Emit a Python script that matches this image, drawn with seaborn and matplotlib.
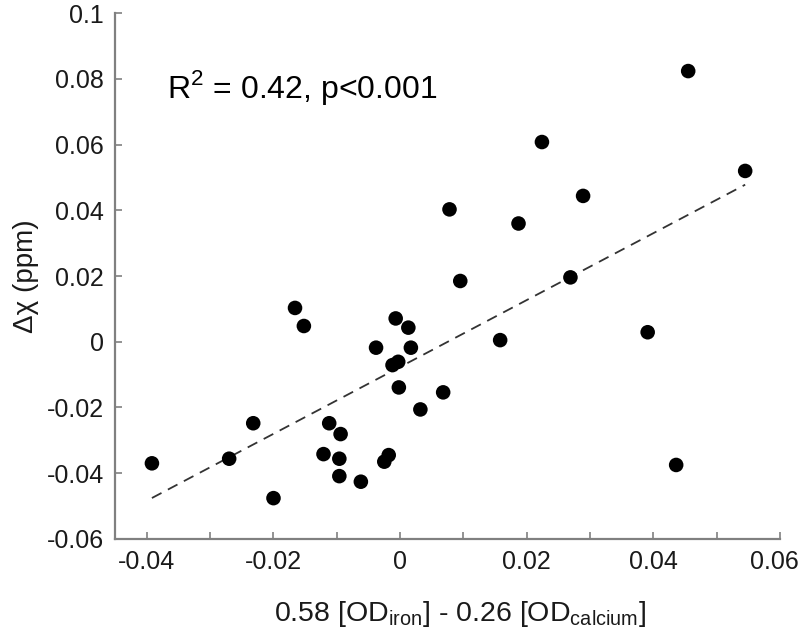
import numpy as np
import pandas as pd
import seaborn as sns
from matplotlib import pyplot as plt
from matplotlib.transforms import ScaledTranslation

# values
od_combo = [-0.0392, -0.0270, -0.0232, -0.0200, -0.0166, -0.0152, -0.0121, -0.0112,
            -0.0096, -0.0094, -0.0096, -0.0062, -0.0038, -0.0025, -0.0018, -0.0012,
            -0.0007, -0.0003, -0.0002, 0.0013, 0.0017, 0.0032, 0.0068, 0.0078,
            0.0095, 0.0158, 0.0187, 0.0224, 0.0269, 0.0289, 0.0391, 0.0436,
            0.0455, 0.0545]
delta_chi = [-0.0370, -0.0356, -0.0248, -0.0476, 0.0103, 0.0048, -0.0342, -0.0248,
             -0.0356, -0.0281, -0.0409, -0.0426, -0.0018, -0.0365, -0.0345, -0.0071,
             0.0071, -0.0061, -0.0139, 0.0043, -0.0018, -0.0206, -0.0154, 0.0403,
             0.0185, 0.0005, 0.0360, 0.0608, 0.0196, 0.0444, 0.0029, -0.0375,
             0.0824, 0.0520]

x_ticks = [-0.04, -0.03, -0.02, -0.01, 0, 0.01, 0.02, 0.03, 0.04, 0.05, 0.06]
x_tick_labels = ["-0.04", "", "-0.02", "", "0", "", "0.02", "", "0.04", "", "0.06"]
y_ticks = [-0.06, -0.04, -0.02, 0, 0.02, 0.04, 0.06, 0.08, 0.1]
y_tick_labels = ["-0.06", "-0.04", "-0.02", "0", "0.02", "0.04", "0.06", "0.08", "0.1"]

df = pd.DataFrame({"x": od_combo, "y": delta_chi})

sns.set_style("ticks")
plt.rcParams["font.family"] = ["Liberation Sans", "DejaVu Sans"]
plt.rcParams["mathtext.fontset"] = "custom"
plt.rcParams["mathtext.rm"] = "Liberation Sans"

fig = plt.figure(figsize=(8, 6.31), dpi=100)
ax = fig.add_axes([0.144, 0.146, 0.831, 0.833])

sns.regplot(data=df, x="x", y="y", scatter=False, ci=None, ax=ax,
            line_kws={"color": "#333333", "linestyle": (0, (6, 4)), "linewidth": 1.3})
sns.scatterplot(data=df, x="x", y="y", ax=ax, color="black", s=110,
                edgecolor="none", zorder=3)

ax.set_xlim(-0.045, 0.06)
ax.set_ylim(-0.06, 0.1)
ax.set_xticks(x_ticks)
ax.set_xticklabels(x_tick_labels)
ax.set_yticks(y_ticks)
ax.set_yticklabels(y_tick_labels)

ax.tick_params(axis="both", direction="in", length=5, width=1.2, color="#808080",
               labelsize=18, labelcolor="#1a1a1a", pad=8)
# last x label sits a little left of its tick in the reference
last = ax.get_xticklabels()[-1]
last.set_transform(last.get_transform() + ScaledTranslation(-6 / 100, 0, fig.dpi_scale_trans))

sns.despine(ax=ax)
for side in ["left", "bottom"]:
    ax.spines[side].set_color("#808080")
    ax.spines[side].set_linewidth(1.6)

ax.set_xlabel(r"0.58 [OD$_{\mathregular{iron}}$] - 0.26 [OD$_{\mathregular{calcium}}$]",
              fontsize=20.5, color="#1a1a1a")
ax.xaxis.set_label_coords((460 - 115) / 665, -0.115)
ax.set_ylabel("Δχ (ppm)", fontsize=20, color="#1a1a1a", labelpad=6)

ax.text(-0.0368, 0.0742, r"R$^{\mathregular{2}}$ = 0.42, p<0.001", fontsize=23,
        color="black", va="baseline")

fig.savefig("out.png", dpi=100)
